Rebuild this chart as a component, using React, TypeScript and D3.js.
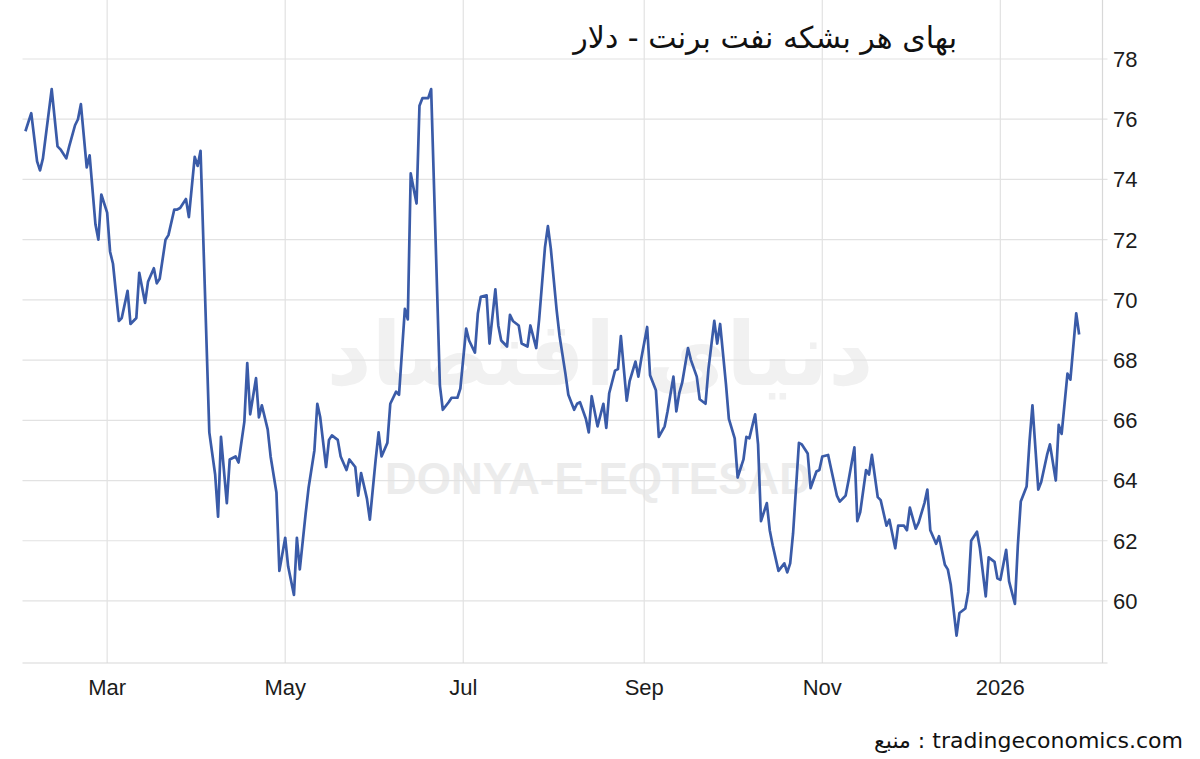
import * as d3 from "d3"

const dates: string[] = [
  "2025-02-01", "2025-02-03", "2025-02-05", "2025-02-06", "2025-02-07", "2025-02-10", "2025-02-12", "2025-02-13",
  "2025-02-15", "2025-02-16", "2025-02-18", "2025-02-19", "2025-02-20", "2025-02-22", "2025-02-23", "2025-02-25",
  "2025-02-26", "2025-02-27", "2025-03-01", "2025-03-02", "2025-03-03", "2025-03-05", "2025-03-06", "2025-03-08",
  "2025-03-09", "2025-03-11", "2025-03-12", "2025-03-14", "2025-03-15", "2025-03-17", "2025-03-18", "2025-03-19",
  "2025-03-21", "2025-03-22", "2025-03-24", "2025-03-25", "2025-03-26", "2025-03-28", "2025-03-29", "2025-03-31",
  "2025-04-01", "2025-04-02", "2025-04-05", "2025-04-07", "2025-04-08", "2025-04-09", "2025-04-11", "2025-04-12",
  "2025-04-14", "2025-04-15", "2025-04-17", "2025-04-18", "2025-04-19", "2025-04-21", "2025-04-22", "2025-04-23",
  "2025-04-25", "2025-04-26", "2025-04-28", "2025-04-29", "2025-05-01", "2025-05-02", "2025-05-04", "2025-05-05",
  "2025-05-06", "2025-05-08", "2025-05-09", "2025-05-11", "2025-05-12", "2025-05-13", "2025-05-15", "2025-05-16",
  "2025-05-17", "2025-05-19", "2025-05-20", "2025-05-22", "2025-05-23", "2025-05-25", "2025-05-26", "2025-05-27",
  "2025-05-29", "2025-05-30", "2025-06-01", "2025-06-02", "2025-06-03", "2025-06-05", "2025-06-06", "2025-06-08",
  "2025-06-09", "2025-06-11", "2025-06-12", "2025-06-13", "2025-06-15", "2025-06-16", "2025-06-17", "2025-06-19",
  "2025-06-20", "2025-06-23", "2025-06-24", "2025-06-26", "2025-06-27", "2025-06-29", "2025-06-30", "2025-07-02",
  "2025-07-03", "2025-07-05", "2025-07-06", "2025-07-07", "2025-07-09", "2025-07-10", "2025-07-12", "2025-07-13",
  "2025-07-14", "2025-07-16", "2025-07-17", "2025-07-18", "2025-07-20", "2025-07-21", "2025-07-23", "2025-07-24",
  "2025-07-26", "2025-07-27", "2025-07-29", "2025-07-30", "2025-07-31", "2025-08-02", "2025-08-03", "2025-08-05",
  "2025-08-06", "2025-08-08", "2025-08-09", "2025-08-10", "2025-08-12", "2025-08-13", "2025-08-14", "2025-08-16",
  "2025-08-18", "2025-08-19", "2025-08-20", "2025-08-22", "2025-08-23", "2025-08-24", "2025-08-26", "2025-08-27",
  "2025-08-29", "2025-08-30", "2025-08-31", "2025-09-02", "2025-09-03", "2025-09-05", "2025-09-06", "2025-09-08",
  "2025-09-09", "2025-09-11", "2025-09-12", "2025-09-13", "2025-09-14", "2025-09-16", "2025-09-17", "2025-09-19",
  "2025-09-20", "2025-09-22", "2025-09-23", "2025-09-25", "2025-09-26", "2025-09-27", "2025-09-29", "2025-09-30",
  "2025-10-02", "2025-10-03", "2025-10-05", "2025-10-06", "2025-10-07", "2025-10-09", "2025-10-10", "2025-10-11",
  "2025-10-13", "2025-10-14", "2025-10-15", "2025-10-17", "2025-10-19", "2025-10-20", "2025-10-21", "2025-10-22",
  "2025-10-24", "2025-10-25", "2025-10-27", "2025-10-28", "2025-10-30", "2025-10-31", "2025-11-01", "2025-11-03",
  "2025-11-04", "2025-11-06", "2025-11-07", "2025-11-09", "2025-11-10", "2025-11-12", "2025-11-13", "2025-11-14",
  "2025-11-16", "2025-11-17", "2025-11-18", "2025-11-20", "2025-11-21", "2025-11-23", "2025-11-24", "2025-11-26",
  "2025-11-27", "2025-11-29", "2025-11-30", "2025-12-01", "2025-12-03", "2025-12-04", "2025-12-06", "2025-12-07",
  "2025-12-08", "2025-12-10", "2025-12-11", "2025-12-13", "2025-12-14", "2025-12-15", "2025-12-17", "2025-12-18",
  "2025-12-20", "2025-12-21", "2025-12-22", "2025-12-24", "2025-12-25", "2025-12-27", "2025-12-28", "2025-12-30",
  "2025-12-31", "2026-01-01", "2026-01-03", "2026-01-04", "2026-01-06", "2026-01-07", "2026-01-08", "2026-01-10",
  "2026-01-11", "2026-01-12", "2026-01-14", "2026-01-15", "2026-01-17", "2026-01-18", "2026-01-20", "2026-01-21",
  "2026-01-22", "2026-01-24", "2026-01-25", "2026-01-27", "2026-01-28",
]

const prices: number[] = [
  75.6, 76.2, 74.6, 74.3, 74.7, 77.0, 75.1, 75.0,
  74.7, 75.1, 75.8, 76.0, 76.5, 74.4, 74.8, 72.5,
  72.0, 73.5, 72.9, 71.6, 71.2, 69.3, 69.4, 70.3,
  69.2, 69.4, 70.9, 69.9, 70.6, 71.05, 70.55, 70.7,
  72.0, 72.15, 73.0, 73.0, 73.05, 73.35, 72.75, 74.75,
  74.45, 74.95, 65.6, 64.2, 62.8, 65.45, 63.25, 64.7,
  64.8, 64.6, 65.95, 67.9, 66.2, 67.4, 66.1, 66.5,
  65.7, 64.8, 63.6, 61.0, 62.1, 61.15, 60.2, 62.1,
  61.05, 62.9, 63.75, 65.0, 66.55, 66.1, 64.45, 65.35,
  65.5, 65.35, 64.8, 64.35, 64.7, 64.45, 63.5, 64.25,
  63.4, 62.7, 64.7, 65.6, 64.8, 65.25, 66.55, 66.95,
  66.85, 69.7, 69.35, 74.2, 73.2, 76.45, 76.7, 76.7,
  77.0, 67.15, 66.35, 66.6, 66.75, 66.75, 67.05, 69.05,
  68.65, 68.25, 69.55, 70.1, 70.15, 68.55, 70.35, 69.15,
  68.65, 68.45, 69.5, 69.3, 69.15, 68.55, 68.45, 69.15,
  68.4, 69.35, 71.75, 72.45, 71.7, 69.65, 68.8, 67.55,
  66.85, 66.35, 66.55, 66.6, 66.05, 65.6, 66.8, 65.8,
  66.55, 65.75, 66.9, 67.65, 67.7, 68.8, 66.65, 67.3,
  67.95, 67.45, 68.05, 69.1, 67.5, 67.0, 65.45, 65.8,
  66.3, 67.45, 66.3, 66.9, 67.25, 68.4, 68.0, 67.45,
  66.7, 66.55, 67.7, 69.3, 68.55, 69.2, 67.2, 66.05,
  65.4, 64.1, 64.7, 65.45, 65.4, 66.2, 65.2, 62.65,
  63.25, 62.35, 61.85, 61.0, 61.25, 60.95, 61.25, 62.25,
  65.25, 65.2, 64.9, 63.75, 64.3, 64.35, 64.8, 64.85,
  64.4, 63.5, 63.3, 63.5, 64.0, 65.1, 62.65, 62.95,
  64.35, 64.2, 64.85, 63.45, 63.35, 62.5, 62.7, 61.75,
  62.5, 62.5, 62.35, 63.1, 62.4, 62.6, 63.25, 63.7,
  62.35, 61.9, 62.15, 61.2, 61.05, 60.55, 58.85, 59.6,
  59.75, 60.3, 62.0, 62.3, 61.75, 60.15, 61.45, 61.3,
  60.75, 60.7, 61.7, 60.65, 59.9, 61.85, 63.3, 63.8,
  65.3, 66.5, 63.7, 63.95, 64.85, 65.2, 64.0, 65.85,
  65.55, 67.55, 67.35, 69.55, 68.85,
]

const yTicks: number[] = [60, 62, 64, 66, 68, 70, 72, 74, 76, 78]
const xTickDates: string[] = ["2025-03-01", "2025-05-01", "2025-07-01", "2025-09-01", "2025-11-01", "2026-01-01"]
const xTickLabels: string[] = ["Mar", "May", "Jul", "Sep", "Nov", "2026"]

const title = "بهای هر بشکه نفت برنت - دلار"
const source = "منبع : tradingeconomics.com"

const W = 1200
const H = 759
const left = 22.5
const right = 1102.5
const bottom = 663

export default function App() {
  const parse = d3.utcParse("%Y-%m-%d")
  const points = dates.map((d, i) => ({ date: parse(d) as Date, value: prices[i] }))

  const x = d3.scaleUtc()
    .domain([parse("2025-01-31") as Date, parse("2026-02-05") as Date])
    .range([left, right])
  const y = d3.scaleLinear().domain([57.94, 78]).range([bottom, 59])

  const line = d3.line<{ date: Date; value: number }>()
    .x((d) => x(d.date))
    .y((d) => y(d.value))

  const font = "'Liberation Sans', Arial, sans-serif"
  const grid = "#e2e2e2"

  return (
    <svg width={W} height={H} style={{ position: "absolute", left: 0, top: 0, background: "#fff" }}>
      <rect width={W} height={H} fill="#fff" />

      {/* watermark */}
      <text x={600} y={385} textAnchor="middle" fontFamily="'DejaVu Sans', sans-serif" fontWeight="bold"
        fontSize={88} fill="#f1f1f1">دنیای اقتصاد</text>
      <text x={598} y={494} textAnchor="middle" fontFamily={font} fontWeight="bold"
        fontSize={44} fill="#ececec">DONYA-E-EQTESAD</text>

      {/* grid */}
      {yTicks.map((t) => (
        <line key={t} x1={left} x2={right + 5} y1={y(t)} y2={y(t)} stroke={grid} strokeWidth={1.2} />
      ))}
      {xTickDates.map((d) => {
        const xv = x(parse(d) as Date)
        return <line key={d} x1={xv} x2={xv} y1={0} y2={bottom} stroke={grid} strokeWidth={1.2} />
      })}
      <line x1={right} x2={right} y1={0} y2={bottom} stroke="#d8d8d8" strokeWidth={1.2} />
      <line x1={left} x2={right + 5} y1={bottom} y2={bottom} stroke="#d8d8d8" strokeWidth={1.2} />

      {/* series */}
      <path d={line(points) ?? ""} fill="none" stroke="#3a5ba8" strokeWidth={2.7} strokeLinejoin="round" />

      {/* y labels */}
      {yTicks.map((t) => (
        <text key={t} x={1113} y={y(t)} dy="0.36em" fontFamily={font} fontSize={22} fill="#1c1c1c">{t}</text>
      ))}

      {/* x labels */}
      {xTickDates.map((d, i) => (
        <text key={d} x={x(parse(d) as Date)} y={695} textAnchor="middle" fontFamily={font} fontSize={22}
          fill="#1c1c1c">{xTickLabels[i]}</text>
      ))}

      <text x={957} y={48} textAnchor="end" fontFamily="'DejaVu Sans', sans-serif" fontSize={30}
        fill="#111">{title}</text>

      <text x={1183} y={748} textAnchor="end" direction="ltr" fontFamily="'DejaVu Sans', sans-serif" fontSize={22}
        fill="#111">{source}</text>
    </svg>
  )
}
